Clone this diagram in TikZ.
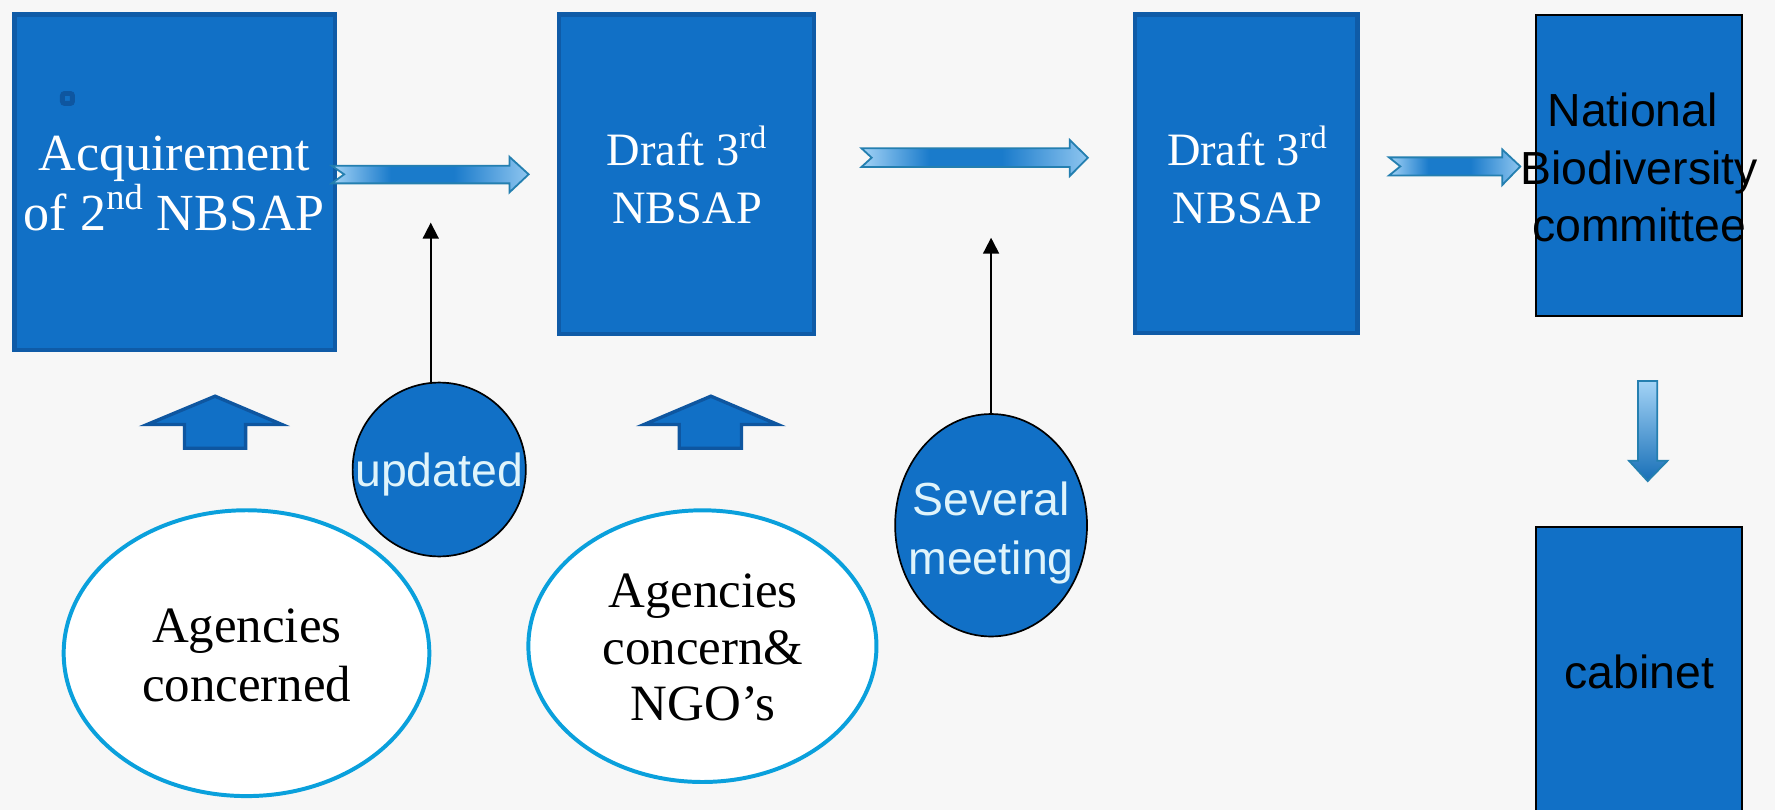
\documentclass[tikz,border=0pt]{standalone}
\usepackage{fontspec}
\setmainfont{Liberation Serif}
\setsansfont{Liberation Sans}
\usetikzlibrary{shapes.geometric,arrows.meta}
\definecolor{bgcol}{HTML}{F7F7F7}
\definecolor{boxblue}{HTML}{1170C6}
\definecolor{boxedge}{HTML}{0F5BA7}
\definecolor{cyanedge}{HTML}{0AA0DC}
\definecolor{arrowedge}{HTML}{247FB0}
\definecolor{lightend}{HTML}{A3D3F6}
\definecolor{middark}{HTML}{1A7BCB}
\definecolor{bubbletext}{HTML}{DFF4FB}
\definecolor{upedge}{HTML}{0E56A0}
\pgfdeclarehorizontalshading{arrshade}{100bp}{color(0bp)=(lightend); color(25bp)=(lightend); color(40bp)=(middark); color(56bp)=(middark); color(75bp)=(lightend!85!middark); color(100bp)=(lightend!85!middark)}
\pgfdeclareverticalshading{dnshade}{100bp}{color(0bp)=(middark!90!black); color(25bp)=(middark!90!black); color(75bp)=(lightend); color(100bp)=(lightend)}
\begin{document}
\begin{tikzpicture}[x=0.5pt,y=-0.5pt,
  bluebox/.style={rectangle, fill=boxblue, draw=boxedge, line width=1.9pt, inner sep=0pt},
  blackbox/.style={rectangle, fill=boxblue, draw=black, line width=0.9pt, inner sep=0pt},
  agency/.style={ellipse, fill=white, draw=cyanedge, line width=1.75pt, inner sep=0pt},
  bubble/.style={ellipse, fill=boxblue, draw=black, line width=0.75pt, inner sep=0pt},
  serifw/.style={text=white, align=center, inner sep=0pt, font=\fontsize{20.5}{25.5}\selectfont},
  serifk/.style={text=black, align=center, inner sep=0pt, font=\fontsize{22.5}{26}\selectfont},
  sansk/.style={text=black, align=center, inner sep=0pt, font=\sffamily\fontsize{20.5}{25.5}\selectfont},
  sansw/.style={text=bubbletext, align=center, inner sep=0pt, font=\sffamily\fontsize{20.5}{26}\selectfont},
  rarrow/.style={draw=arrowedge, line width=0.8pt, line join=miter, shading=arrshade},
  darrow/.style={draw=arrowedge, line width=0.8pt, line join=miter, shading=dnshade},
  uparrow/.style={fill=boxblue, draw=upedge, line width=1.5pt, line join=miter},
  thinarrow/.style={draw=black, line width=0.8pt, -{Triangle[width=7pt,length=7pt]}},
  bulletsq/.style={rectangle, draw=upedge, line width=2.2pt, minimum size=4.4pt, rounded corners=1pt, inner sep=0pt}
]
\useasboundingbox (0,0) rectangle (1568,715.5);
\clip (0,0) rectangle (1568,715.5);
\fill[bgcol] (0,0) rectangle (1568,715.5);

% boxes
\node[bluebox, minimum width=141.6pt, minimum height=148.1pt] (b1) at (154.5,161) {};
\node[bluebox, minimum width=112.6pt, minimum height=141.1pt] (b2) at (606.5,154) {};
\node[bluebox, minimum width=98.1pt, minimum height=140.6pt] (b3) at (1101,153.5) {};
\node[blackbox, minimum width=91.1pt, minimum height=133.1pt] (b4) at (1448,146) {};
\node[blackbox, minimum width=91.1pt, minimum height=146.6pt] (b5) at (1448,612.5) {};

\node[bulletsq] (bul) at (59.6,87) {};

% box texts
\node[serifw, font=\fontsize{23}{26.2}\selectfont] (t1) at (154,162) {Acquirement\\of 2\textsuperscript{nd} NBSAP};
\node[serifw] (t2) at (607,154.5) {Draft 3\textsuperscript{rd}\\NBSAP};
\node[serifw] (t3) at (1102,154.5) {Draft 3\textsuperscript{rd}\\NBSAP};
\node[sansk] (t4) at (1448,148) {National\hspace*{0.28em}\\Biodiversity\\committee};
\node[sansk, anchor=base] (t5) at (1448,608) {cabinet};

% block arrows between boxes
\draw[rarrow] (293,146.4) -- (450,146.4) -- (450,138.5) -- (467,154) -- (450,170) -- (450,162) -- (293,162) -- (304,154) -- cycle;
\draw[rarrow] (761,131) -- (945,131) -- (945,123.7) -- (961,139.3) -- (945,155.5) -- (945,147.5) -- (761,147.5) -- (770,139.3) -- cycle;
\draw[rarrow] (1227,139) -- (1327,139) -- (1327,132) -- (1343,147) -- (1327,163.5) -- (1327,155) -- (1227,155) -- (1237,147) -- cycle;
\draw[darrow] (1447,336.6) -- (1464,336.6) -- (1464,407) -- (1473,407) -- (1455.5,425) -- (1439,407) -- (1447,407) -- cycle;

% up block arrows
\draw[uparrow] (130,375) -- (190,350) -- (249,375) -- (217,375) -- (217,396) -- (163,396) -- (163,375) -- cycle;
\draw[uparrow] (569,375) -- (628,350) -- (687,375) -- (655,375) -- (655,396) -- (600,396) -- (600,375) -- cycle;

% ellipses
\node[agency, minimum width=161.5pt, minimum height=126.25pt] (e1) at (217.75,577) {};
\node[agency, minimum width=153.75pt, minimum height=120pt] (e2) at (620.5,570.8) {};
\node[serifk] (te1) at (218,578.7) {Agencies\\concerned};
\node[serifk, font=\fontsize{22.5}{25}\selectfont] (te2) at (621,572) {Agencies\\concern\&\\NGO’s};

\node[bubble, minimum width=76.5pt, minimum height=76.8pt] (upd) at (388,414.75) {};
\node[bubble, minimum width=84.75pt, minimum height=98.25pt] (sev) at (875.5,464) {};
\node[sansw, anchor=base] (tupd) at (388,430) {updated};
\node[sansw] (tsev) at (875.5,471) {Several\\meeting};

% thin connectors
\coordinate (tipA) at (380.5,196.7);
\coordinate (tipB) at (875.5,210);
\draw[thinarrow] (upd.north -| tipA) -- (tipA);
\draw[thinarrow] (sev.north) -- (tipB);
\end{tikzpicture}
\end{document}
